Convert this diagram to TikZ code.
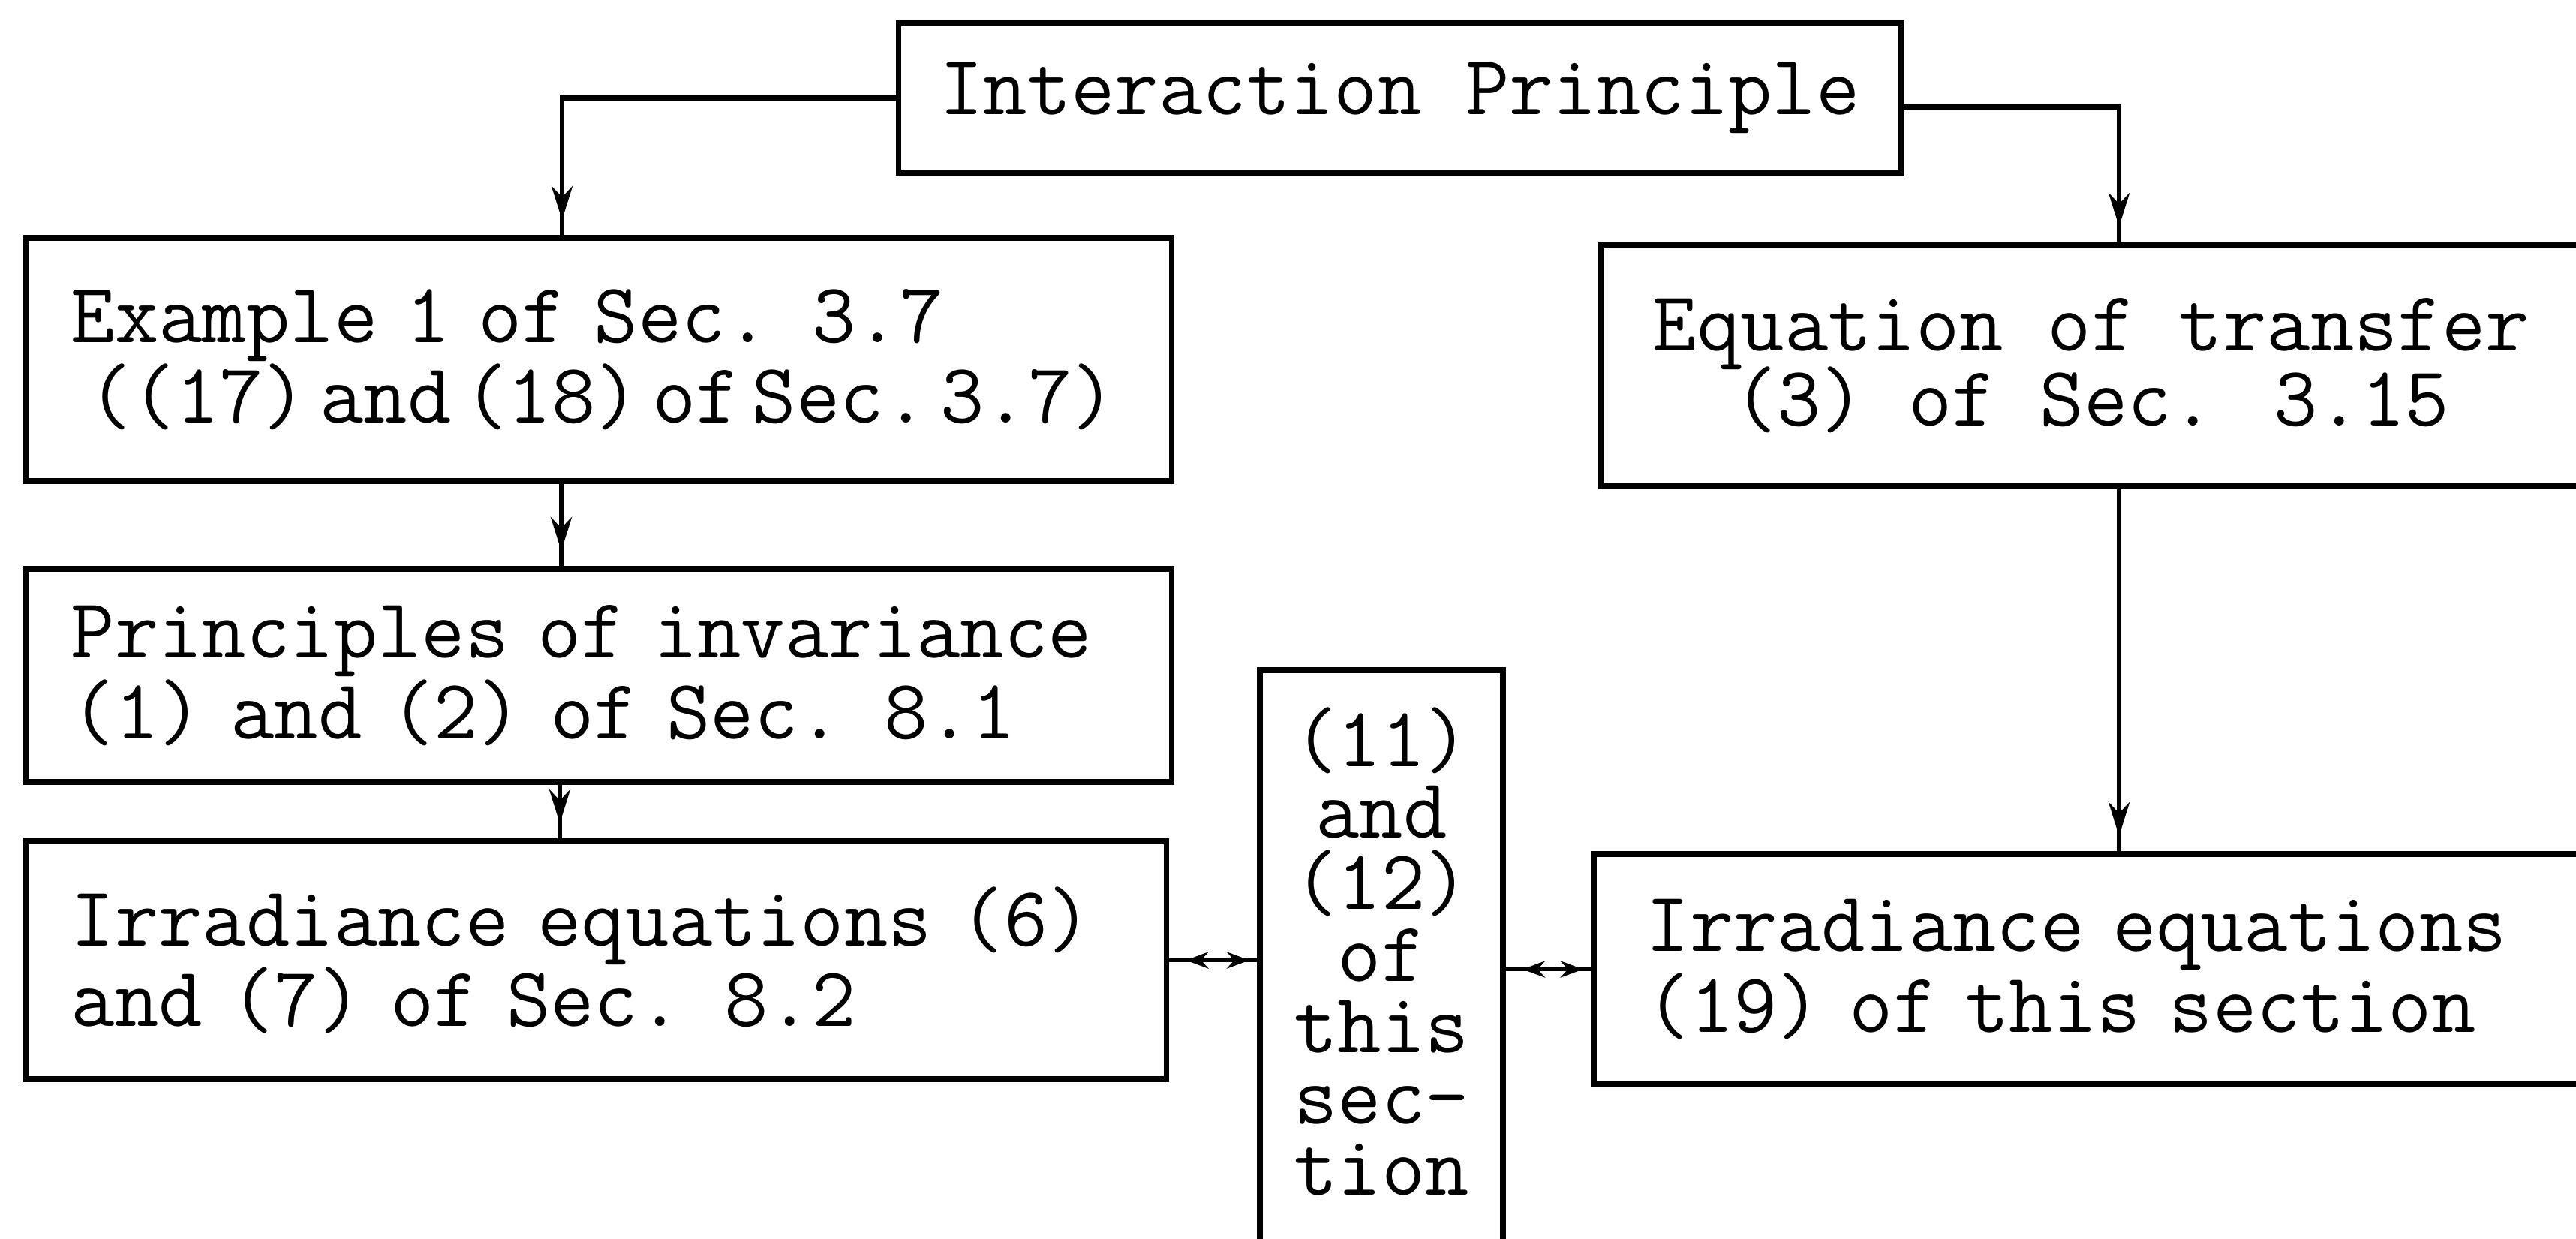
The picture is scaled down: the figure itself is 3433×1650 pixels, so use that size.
\documentclass[tikz,border=0pt]{standalone}
\usetikzlibrary{arrows.meta,decorations.markings}
\lineskiplimit=-100pt
\newcommand\nsp{\kern0.15em}
\begin{document}
\begin{tikzpicture}[x=0.01cm,y=-0.01cm,
  tt/.style={font=\ttfamily\fontsize{32.25pt}{28.4pt}\selectfont},
  box/.style={draw, line width=2.2pt, rectangle, tt, inner ysep=0pt},
  arr/.style={line width=1.8pt, postaction={decorate},
    decoration={markings, mark=at position -0.2cm with {\arrow{Stealth[length=0.45cm,width=0.28cm]}}}},
  dbl/.style={line width=1.6pt, postaction={decorate},
    decoration={markings,
      mark=at position 0.22cm with {\arrowreversed{Stealth[length=0.3cm,width=0.22cm]}},
      mark=at position -0.1cm with {\arrow{Stealth[length=0.3cm,width=0.22cm]}}}}
]
\useasboundingbox (0,0) rectangle (3433,1650);
\fill[white] (0,0) rectangle (3433,1650);

\node[box, minimum width=13.35cm, minimum height=1.99cm] (ip) at (1865.5,130.5) {Interaction Principle};

\node[box, minimum width=15.26cm, minimum height=3.24cm, inner xsep=0.6cm, text width=14.06cm, align=left] (ex) at (798,479)
  {Example 1 of Sec. 3.7\\\hspace*{0.2em}((17)\nsp and\nsp (18)\nsp of\nsp Sec.\nsp 3.7)};

\node[box, minimum width=15.26cm, minimum height=2.84cm, inner xsep=0.6cm, text width=14.06cm, align=left] (pr) at (798,900)
  {Principles of invariance\\(1) and (2) of Sec. 8.1};

\node[box, minimum width=15.19cm, minimum height=3.17cm, inner xsep=0.6cm, text width=13.99cm, align=left] (ir1) at (794.5,1279.5)
  {Irradiance equations (6)\\and (7) of Sec. 8.2};

\node[box, minimum width=13.06cm, minimum height=3.22cm, align=center] (eq) at (2787,487)
  {Equation of transfer\\(3) of Sec. 3.15};

\node[box, minimum width=13.16cm, minimum height=3.07cm, inner xsep=0.7cm, text width=11.76cm, align=left] (ir2) at (2782,1291.5)
  {Irradiance equations\\(19) of this section};

\node[draw, line width=2.2pt, rectangle, minimum width=3.24cm, minimum height=7.94cm] (midbox) at (1841,1290) {};
\node[font=\ttfamily\fontsize{32.25pt}{27.1pt}\selectfont, align=center, inner sep=0pt] (midtext) at (1841,1268)
  {(11)\\and\\(12)\\of\\this\\sec-\\tion};

\draw[arr] (ip.west) -| ([xshift=-0.49cm]ex.north);
\draw[arr] ([yshift=-0.12cm]ip.east) -| ([xshift=0.37cm]eq.north);
\draw[arr] ([xshift=-0.5cm]ex.south) coordinate (a1) -- (a1 |- pr.north);
\draw[arr] ([xshift=-0.52cm]pr.south) coordinate (a2) -- (a2 |- ir1.north);
\draw[arr] ([xshift=0.37cm]eq.south) coordinate (a3) -- (a3 |- ir2.north);
\draw[dbl] (ir1.east) -- (ir1.east -| midbox.west);
\draw[dbl] (ir2.west -| midbox.east) -- (ir2.west);
\end{tikzpicture}
\end{document}
